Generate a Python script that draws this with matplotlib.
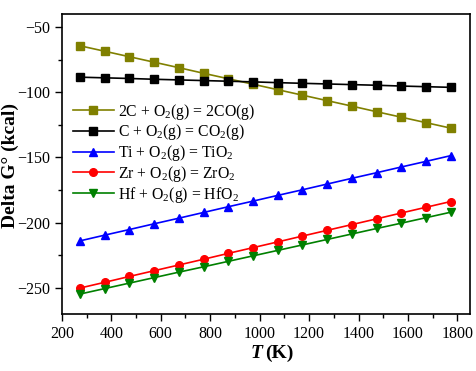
import matplotlib
matplotlib.use("Agg")
import matplotlib.pyplot as plt
from matplotlib.ticker import MultipleLocator

T = [273, 373, 473, 573, 673, 773, 873, 973, 1073, 1173, 1273, 1373, 1473, 1573, 1673, 1773]
g_co = [-64.3, -68.5, -72.7, -76.9, -81.1, -85.4, -89.6, -93.8, -98.0, -102.2, -106.4, -110.6, -114.9, -119.1, -123.3, -127.5]
g_co2 = [-88.4, -88.9, -89.4, -90.0, -90.5, -91.0, -91.5, -92.0, -92.6, -93.1, -93.6, -94.1, -94.6, -95.2, -95.7, -96.2]
g_ti = [-214.0, -209.6, -205.3, -200.9, -196.6, -192.2, -187.8, -183.5, -179.1, -174.8, -170.4, -166.0, -161.7, -157.3, -153.0, -148.6]
g_zr = [-250.2, -245.8, -241.3, -236.9, -232.5, -228.1, -223.6, -219.2, -214.8, -210.3, -205.9, -201.5, -197.1, -192.6, -188.2, -183.8]
g_hf = [-254.8, -250.6, -246.4, -242.2, -238.0, -233.9, -229.7, -225.5, -221.3, -217.1, -212.9, -208.7, -204.5, -200.4, -196.2, -192.0]

labels = [r"2C + O$_2$(g) = 2CO(g)", r"C + O$_2$(g) = CO$_2$(g)", r"Ti + O$_2$(g) = TiO$_2$",
          r"Zr + O$_2$(g) = ZrO$_2$", r"Hf + O$_2$(g) = HfO$_2$"]

plt.rcParams['font.family'] = ['Liberation Serif', 'DejaVu Serif']
plt.rcParams['mathtext.fontset'] = 'custom'
plt.rcParams['mathtext.rm'] = 'Liberation Serif'
plt.rcParams['mathtext.it'] = 'Liberation Serif:italic'
plt.rcParams['mathtext.bf'] = 'Liberation Serif:bold'

fig = plt.figure(figsize=(4.76, 3.71), dpi=100)
ax = fig.add_axes([0.130, 0.154, 0.857, 0.808])

series = [(g_co, '#808000', 's'), (g_co2, 'black', 's'), (g_ti, 'blue', '^'),
          (g_zr, 'red', 'o'), (g_hf, 'green', 'v')]
for (vals, c, m), lab in zip(series, labels):
    ax.plot(T, vals, color=c, marker=m, markersize=5.5, lw=1.2, label=lab)

ax.set_xlim(200, 1850)
ax.set_ylim(-270, -40)
ax.xaxis.set_major_locator(MultipleLocator(200))
ax.xaxis.set_minor_locator(MultipleLocator(100))
ax.yaxis.set_major_locator(MultipleLocator(50))
ax.yaxis.set_minor_locator(MultipleLocator(25))
ax.tick_params(which='both', direction='out', top=False, right=False, labelsize=11.5)
ax.tick_params(which='major', length=5, width=1)
ax.tick_params(which='minor', length=3, width=1)
for s in ax.spines.values():
    s.set_linewidth(1.2)

fig.text(0.552, 0.035, "T", fontsize=14, fontweight='bold', style='italic', ha='right', va='baseline')
fig.text(0.556, 0.035, "(K)", fontsize=14, fontweight='bold', ha='left', va='baseline')
fig.text(0.022, 0.555, "Delta G° (kcal)", fontsize=14, fontweight='bold', rotation=90,
         ha='center', va='center')

ax.legend(loc='upper left', bbox_to_anchor=(0.0, 0.745), frameon=False, fontsize=11.3,
          handlelength=2.6, labelspacing=0.05, handletextpad=0.3, borderaxespad=0.3)

fig.savefig("out.png", dpi=100)
